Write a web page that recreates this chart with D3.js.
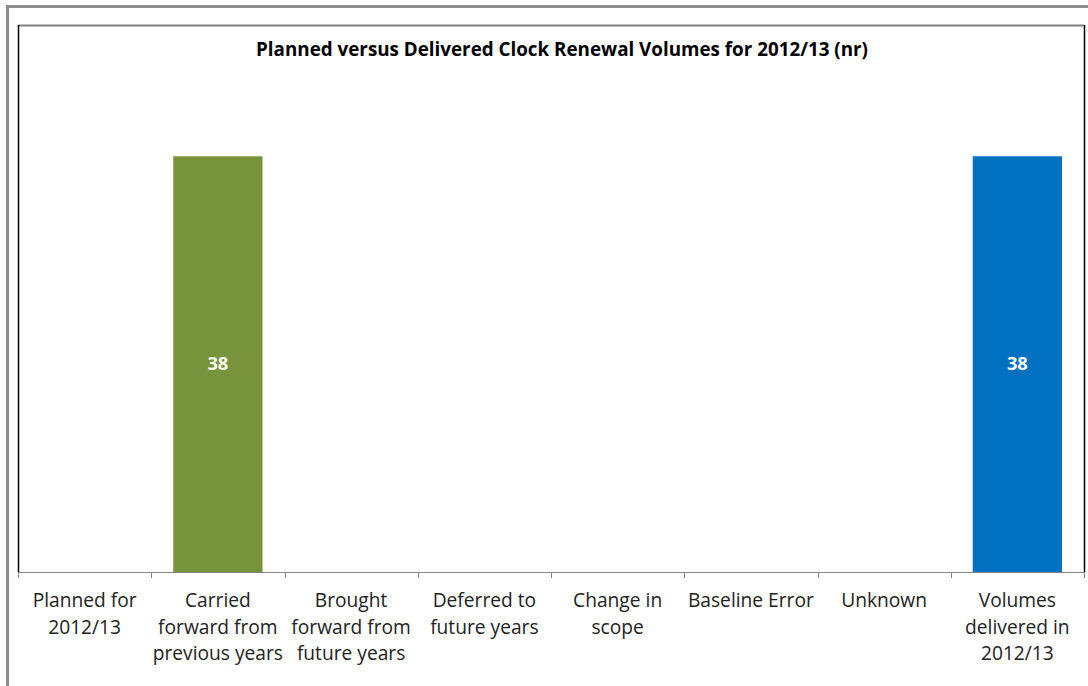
<!DOCTYPE html>
<html><head><meta charset="utf-8">
<script src="https://cdn.jsdelivr.net/npm/d3@7"></script>
<style>body{margin:0;background:#fff}svg{display:block}</style>
</head><body>
<svg id="c" width="1088" height="686"></svg>
<script>
const categories = [
  ["Planned for", "2012/13"],
  ["Carried", "forward from", "previous years"],
  ["Brought", "forward from", "future years"],
  ["Deferred to", "future years"],
  ["Change in", "scope"],
  ["Baseline Error"],
  ["Unknown"],
  ["Volumes", "delivered in", "2012/13"]
];
const values = [0, 38, 0, 0, 0, 0, 0, 38];
const barColors = ["#77933C", "#77933C", "#77933C", "#77933C", "#77933C", "#77933C", "#77933C", "#0070C0"];
const title = "Planned versus Delivered Clock Renewal Volumes for 2012/13 (nr)";

const svg = d3.select("#c");
const font = "'Open Sans', 'Noto Sans', sans-serif";

function fitSize(text, weight, targetW, base) {
  const t = svg.append("text").attr("font-family", font).attr("font-weight", weight)
    .attr("font-size", base).text(text);
  const w = t.node().getComputedTextLength();
  t.remove();
  return base * targetW / w;
}
const titleSize = fitSize(title, "bold", 612, 16);
const catSize = fitSize("Baseline Error", "normal", 126, 17);
const valSize = fitSize("38", "bold", 21, 16);

// outer frame
svg.append("rect").attr("x", 7.5).attr("y", 6.5).attr("width", 1100).attr("height", 700)
  .attr("fill", "none").attr("stroke", "#8c8c8c").attr("stroke-width", 3);

const L = 18, R = 1084, T = 25, B = 572;
const keys = categories.map((d, i) => i);
const x = d3.scaleBand().domain(keys).range([L, R]).paddingInner(0.33).paddingOuter(0.165);
const xb = d3.scaleBand().domain(keys).range([L, R]);
const y = d3.scaleLinear().domain([0, 50]).range([B, T]);

// plot frame
svg.append("line").attr("x1", L).attr("x2", R).attr("y1", T + 0.5).attr("y2", T + 0.5).attr("stroke", "#808080").attr("stroke-width", 2);
svg.append("line").attr("x1", L + 0.5).attr("x2", L + 0.5).attr("y1", T).attr("y2", B).attr("stroke", "#000").attr("stroke-width", 1.5);
svg.append("line").attr("x1", R + 0.5).attr("x2", R + 0.5).attr("y1", T).attr("y2", B).attr("stroke", "#000").attr("stroke-width", 1.5);

svg.append("text").attr("x", 562).attr("y", 56).attr("text-anchor", "middle")
  .attr("font-family", font).attr("font-weight", "bold").attr("font-size", titleSize).attr("fill", "#000").text(title);

const bars = values.map((v, i) => ({ i, v })).filter(d => d.v > 0);
svg.selectAll("rect.bar").data(bars).join("rect").attr("class", "bar")
  .attr("x", d => x(d.i)).attr("width", x.bandwidth())
  .attr("y", d => y(d.v)).attr("height", d => y(0) - y(d.v))
  .attr("fill", d => barColors[d.i]);

svg.selectAll("text.val").data(bars).join("text").attr("class", "val")
  .attr("x", d => x(d.i) + x.bandwidth() / 2).attr("y", d => (y(d.v) + y(0)) / 2 + 6)
  .attr("text-anchor", "middle").attr("font-family", font).attr("font-weight", "bold")
  .attr("font-size", valSize).attr("fill", "#fff").text(d => d.v);

// axis
const ax = svg.append("g").attr("transform", `translate(0,${B})`);
ax.append("line").attr("x1", L).attr("x2", R).attr("y1", 0.5).attr("y2", 0.5).attr("stroke", "#868686");
d3.range(categories.length + 1).forEach(k => {
  const tx = Math.round(L + k * xb.step()) + 0.5;
  ax.append("line").attr("x1", tx).attr("x2", tx).attr("y1", 0).attr("y2", 6).attr("stroke", "#868686");
});
const lab = svg.selectAll("text.cat").data(categories).join("text").attr("class", "cat")
  .attr("x", (d, i) => xb(i) + xb.bandwidth() / 2).attr("y", 607)
  .attr("text-anchor", "middle").attr("font-family", font).attr("font-size", catSize).attr("fill", "#222");
lab.selectAll("tspan").data(d => d).join("tspan")
  .attr("x", function () { return this.parentNode.getAttribute("x"); })
  .attr("dy", (d, j) => j === 0 ? 0 : 26.5).text(d => d);
</script>
</body></html>
